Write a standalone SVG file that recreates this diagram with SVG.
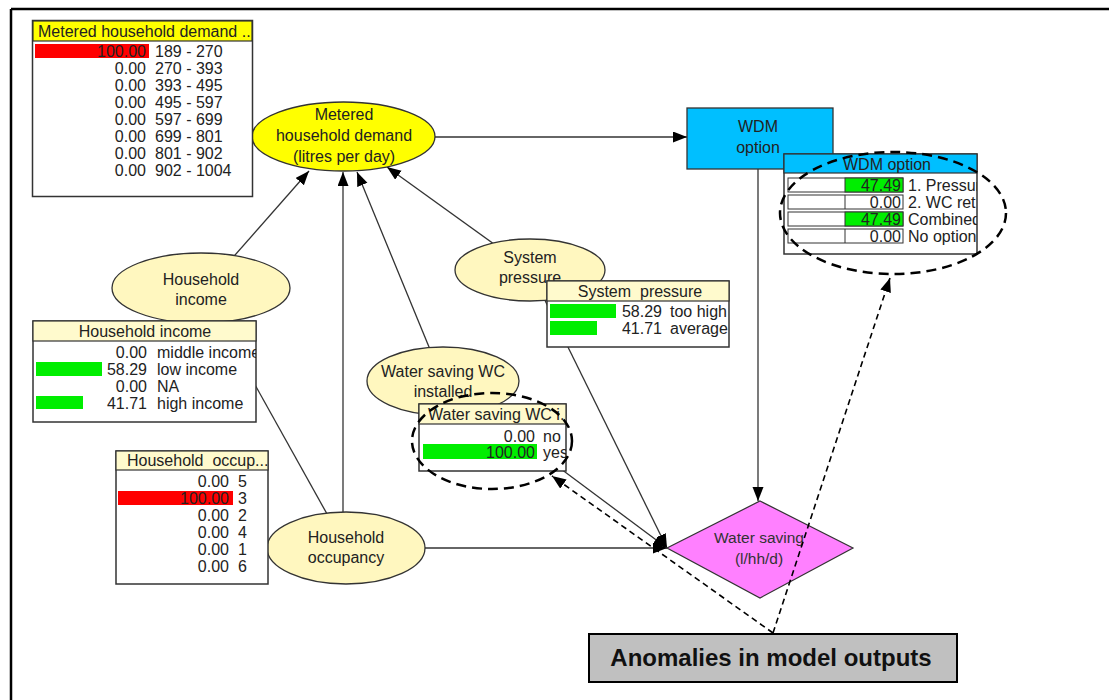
<svg xmlns="http://www.w3.org/2000/svg" width="1109" height="700" viewBox="0 0 1109 700">
<style>
text{font-family:"Liberation Sans",Arial,sans-serif;font-size:16px;fill:#222;white-space:pre}
.conn{stroke:#333;stroke-width:1.3;fill:none}
.tbl{fill:#fff;stroke:#333;stroke-width:1.5}
.hdrY{fill:#FFFACD;stroke:#333;stroke-width:1.2}
.el{fill:#FFF7BF;stroke:#333;stroke-width:1.3}
.num{text-anchor:end}
.c{text-anchor:middle}
.dash{fill:none;stroke:#000;stroke-width:2.5;stroke-dasharray:10 6}
.dline{fill:none;stroke:#000;stroke-width:1.6;stroke-dasharray:6 4}
.red{fill:#FF0000}
.grn{fill:#00EE00}
</style>
<defs>
<marker id="arr" markerUnits="userSpaceOnUse" markerWidth="15" markerHeight="12" refX="14" refY="5.5" orient="auto">
<path d="M0,0 L14,5.5 L0,11 z" fill="#000"/>
</marker>
<clipPath id="cMet"><rect x="33" y="21" width="219" height="175"/></clipPath>
<clipPath id="cInc"><rect x="33" y="321" width="223" height="101"/></clipPath>
<clipPath id="cOcc"><rect x="116" y="451" width="152" height="133"/></clipPath>
<clipPath id="cWC"><rect x="419" y="404" width="147" height="67"/></clipPath>
<clipPath id="cSys"><rect x="547" y="281" width="182" height="66"/></clipPath>
<clipPath id="cWDM"><rect x="784" y="154" width="193" height="100"/></clipPath>
</defs>
<rect x="0" y="0" width="1109" height="700" fill="#fff"/>
<g id="frame">
<path d="M11,9 H1109 M11,9 V700" stroke="#000" stroke-width="2.5" fill="none"/>
</g>
<g id="connectors">
<line class="conn" x1="435" y1="137" x2="687" y2="137" marker-end="url(#arr)"/>
<line class="conn" x1="758" y1="169" x2="758" y2="501" marker-end="url(#arr)"/>
<line class="conn" x1="206" y1="288" x2="309" y2="171" marker-end="url(#arr)"/>
<line class="conn" x1="343" y1="548" x2="343" y2="172" marker-end="url(#arr)"/>
<line class="conn" x1="443" y1="381" x2="357" y2="172" marker-end="url(#arr)"/>
<line class="conn" x1="530" y1="270" x2="387" y2="167" marker-end="url(#arr)"/>
<line class="conn" x1="201" y1="288" x2="346" y2="548"/>
<line class="conn" x1="425" y1="548" x2="667" y2="548" marker-end="url(#arr)"/>
<line class="conn" x1="443" y1="381" x2="667" y2="548" marker-end="url(#arr)"/>
<line class="conn" x1="530" y1="270" x2="667" y2="548" marker-end="url(#arr)"/>
</g>
<g id="node-metered">
<ellipse cx="343.5" cy="136.5" rx="91.5" ry="34.5" fill="#FFFF00" stroke="#333" stroke-width="1.3"/>
<text class="c" x="344" y="120">Metered</text>
<text class="c" x="344" y="141">household demand</text>
<text class="c" x="344" y="162">(litres per day)</text>
</g>
<g id="node-wdm">
<rect x="687" y="108" width="146" height="61" fill="#00BFFF" stroke="#333" stroke-width="1.3"/>
<text class="c" x="758" y="132">WDM</text>
<text class="c" x="758" y="153">option</text>
</g>
<g id="node-income">
<ellipse class="el" cx="201" cy="288" rx="89" ry="35"/>
<text class="c" x="201" y="285">Household</text>
<text class="c" x="201" y="305">income</text>
</g>
<g id="node-system">
<ellipse class="el" cx="530" cy="270" rx="75" ry="31"/>
<text class="c" x="530" y="263">System</text>
<text class="c" x="530" y="283">pressure</text>
</g>
<g id="node-wc">
<ellipse class="el" cx="443" cy="381" rx="76" ry="34"/>
<text class="c" x="443" y="377">Water saving WC</text>
<text class="c" x="443" y="397">installed</text>
</g>
<g id="node-occupancy">
<ellipse class="el" cx="346" cy="548" rx="79" ry="36"/>
<text class="c" x="346" y="543">Household</text>
<text class="c" x="346" y="563">occupancy</text>
</g>
<g id="node-watersaving">
<polygon points="760,501 853,548 760,598 667,548" fill="#FF80FF" stroke="#333" stroke-width="1.2"/>
<text class="c" x="759" y="543" style="font-size:15.5px;fill:#333">Water saving</text>
<text class="c" x="759" y="564" style="font-size:15.5px;fill:#333">(l/hh/d)</text>
</g>
<g id="table-metered">
<rect class="tbl" x="32.5" y="20.5" width="220" height="176"/>
<rect x="33" y="21" width="219" height="20" fill="#FFFF00" stroke="#333" stroke-width="1.2"/>
<g clip-path="url(#cMet)">
<text x="38" y="37">Metered household demand ..</text>
<rect class="red" x="35" y="44" width="114" height="14"/>
<text class="num" x="146" y="57">100.00</text><text x="155" y="57">189 - 270</text>
<text class="num" x="146" y="74">0.00</text><text x="155" y="74">270 - 393</text>
<text class="num" x="146" y="91">0.00</text><text x="155" y="91">393 - 495</text>
<text class="num" x="146" y="108">0.00</text><text x="155" y="108">495 - 597</text>
<text class="num" x="146" y="125">0.00</text><text x="155" y="125">597 - 699</text>
<text class="num" x="146" y="142">0.00</text><text x="155" y="142">699 - 801</text>
<text class="num" x="146" y="159">0.00</text><text x="155" y="159">801 - 902</text>
<text class="num" x="146" y="176">0.00</text><text x="155" y="176">902 - 1004</text>
</g>
</g>
<g id="table-income">
<rect class="tbl" x="33" y="321" width="223" height="101"/>
<rect class="hdrY" x="33" y="321" width="223" height="20"/>
<g clip-path="url(#cInc)">
<text class="c" x="145" y="337">Household income</text>
<text class="num" x="147" y="358">0.00</text><text x="157" y="358">middle income</text>
<rect class="grn" x="36" y="362" width="66" height="14"/>
<text class="num" x="147" y="375">58.29</text><text x="157" y="375">low income</text>
<text class="num" x="147" y="392">0.00</text><text x="157" y="392">NA</text>
<rect class="grn" x="36" y="396" width="47" height="13"/>
<text class="num" x="147" y="409">41.71</text><text x="157" y="409">high income</text>
</g>
</g>
<g id="table-occupancy">
<rect class="tbl" x="116" y="451" width="152" height="133"/>
<rect class="hdrY" x="116" y="451" width="152" height="19"/>
<g clip-path="url(#cOcc)">
<text x="127" y="466">Household  occup...</text>
<text class="num" x="229" y="487">0.00</text><text x="238" y="487">5</text>
<rect class="red" x="118" y="491" width="115" height="14"/>
<text class="num" x="229" y="504">100.00</text><text x="238" y="504">3</text>
<text class="num" x="229" y="521">0.00</text><text x="238" y="521">2</text>
<text class="num" x="229" y="538">0.00</text><text x="238" y="538">4</text>
<text class="num" x="229" y="555">0.00</text><text x="238" y="555">1</text>
<text class="num" x="229" y="572">0.00</text><text x="238" y="572">6</text>
</g>
</g>
<g id="table-system">
<rect class="tbl" x="547" y="281" width="182" height="66"/>
<rect class="hdrY" x="547" y="281" width="182" height="20"/>
<g clip-path="url(#cSys)">
<text class="c" x="640" y="297">System  pressure</text>
<rect class="grn" x="550" y="304" width="66" height="14"/>
<text class="num" x="662" y="317">58.29</text><text x="670" y="317">too high</text>
<rect class="grn" x="550" y="321" width="47" height="14"/>
<text class="num" x="662" y="334">41.71</text><text x="670" y="334">average</text>
</g>
</g>
<g id="table-wc">
<rect class="tbl" x="419" y="404" width="147" height="67"/>
<rect class="hdrY" x="419" y="404" width="147" height="20"/>
<g clip-path="url(#cWC)">
<text x="428" y="420">Water saving WC i.</text>
<text class="num" x="535" y="442">0.00</text><text x="543" y="442">no</text>
<rect class="grn" x="423" y="444" width="114" height="15"/>
<text class="num" x="535" y="458">100.00</text><text x="543" y="458">yes</text>
</g>
</g>
<g id="table-wdm">
<rect class="tbl" x="784" y="154" width="193" height="100"/>
<rect x="784" y="154" width="193" height="19" fill="#00BFFF" stroke="#333" stroke-width="1.2"/>
<g clip-path="url(#cWDM)">
<text class="c" x="887" y="170">WDM option</text>
<rect x="788" y="178" width="115" height="14" fill="#fff" stroke="#333" stroke-width="1"/>
<rect class="grn" x="845" y="178" width="58" height="14" stroke="#333" stroke-width="1"/>
<text class="num" x="901" y="191">47.49</text><text x="908" y="191">1. Pressur</text>
<rect x="788" y="195" width="115" height="14" fill="#fff" stroke="#333" stroke-width="1"/>
<line x1="845" y1="195" x2="845" y2="209" stroke="#333"/>
<text class="num" x="901" y="208">0.00</text><text x="908" y="208">2. WC ret</text>
<rect x="788" y="212" width="115" height="14" fill="#fff" stroke="#333" stroke-width="1"/>
<rect class="grn" x="845" y="212" width="58" height="14" stroke="#333" stroke-width="1"/>
<text class="num" x="901" y="225">47.49</text><text x="908" y="225">Combined</text>
<rect x="788" y="229" width="115" height="14" fill="#fff" stroke="#333" stroke-width="1"/>
<line x1="845" y1="229" x2="845" y2="243" stroke="#333"/>
<text class="num" x="901" y="242">0.00</text><text x="908" y="242">No option</text>
</g>
</g>
<g id="annotations">
<ellipse class="dash" cx="893" cy="213" rx="113" ry="61"/>
<ellipse class="dash" cx="492" cy="441" rx="80" ry="48"/>
<line class="dline" x1="773" y1="633" x2="552" y2="476" marker-end="url(#arr)"/>
<line class="dline" x1="773" y1="633" x2="890" y2="278" marker-end="url(#arr)"/>
</g>
<g id="node-anomalies">
<rect x="589" y="634" width="368" height="48" fill="#C0C0C0" stroke="#000" stroke-width="2"/>
<text class="c" x="771" y="666" style="font-size:24px;font-weight:bold;fill:#111">Anomalies in model outputs</text>
</g>
</svg>
